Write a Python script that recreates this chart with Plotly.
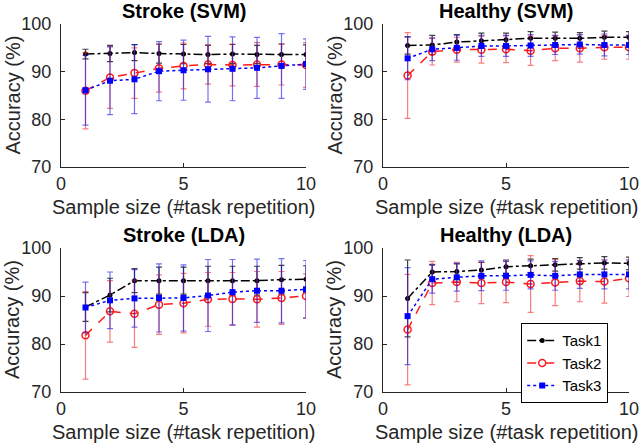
import plotly.graph_objects as go

x = [1, 2, 3, 4, 5, 6, 7, 8, 9, 10]
tasks = ["Task1", "Task2", "Task3"]
panel_titles = ["Stroke (SVM)", "Healthy (SVM)", "Stroke (LDA)", "Healthy (LDA)"]
x_ticks = [0, 5, 10]
y_ticks = [70, 80, 90, 100]

# Stroke (SVM)
s_svm_t1 = [93.7, 93.8, 94.0, 93.8, 93.7, 93.6, 93.7, 93.6, 93.6, 93.6]
s_svm_t1_err = [1.0, 1.7, 1.7, 2.0, 2.0, 1.9, 2.0, 1.9, 2.2, 2.0]
s_svm_t2 = [86.0, 88.8, 89.7, 90.7, 91.2, 91.5, 91.4, 91.5, 91.5, 91.4]
s_svm_t2_err = [8.0, 6.5, 5.3, 5.0, 4.8, 4.1, 4.4, 4.6, 4.3, 4.7]
s_svm_t3 = [86.1, 88.1, 88.4, 90.1, 90.3, 90.5, 90.6, 90.8, 91.2, 91.6]
s_svm_t3_err = [7.3, 7.1, 7.2, 6.2, 6.3, 6.9, 6.7, 6.4, 6.8, 5.3]

# Healthy (SVM)
h_svm_t1 = [95.5, 95.6, 96.2, 96.5, 96.7, 97.0, 97.0, 97.0, 97.2, 97.2]
h_svm_t1_err = [1.8, 2.0, 1.6, 1.6, 1.4, 1.4, 1.3, 1.2, 1.3, 1.2]
h_svm_t2 = [89.2, 94.2, 94.6, 94.6, 94.7, 94.4, 94.9, 94.9, 95.1, 95.1]
h_svm_t2_err = [9.0, 2.8, 2.6, 2.8, 2.8, 3.1, 2.6, 2.9, 2.5, 2.5]
h_svm_t3 = [92.8, 94.7, 95.0, 95.4, 95.4, 95.5, 95.6, 95.7, 95.6, 95.6]
h_svm_t3_err = [4.5, 2.4, 2.6, 2.2, 2.2, 2.3, 2.0, 2.0, 2.3, 2.0]

# Stroke (LDA)
s_lda_t1 = [87.7, 90.2, 93.2, 93.2, 93.2, 93.2, 93.2, 93.2, 93.4, 93.5]
s_lda_t1_err = [3.0, 3.5, 2.5, 2.8, 2.8, 3.0, 3.0, 3.0, 3.0, 2.8]
s_lda_t2 = [81.8, 86.8, 86.3, 88.2, 88.5, 89.3, 89.4, 89.3, 89.6, 90.0]
s_lda_t2_err = [9.1, 6.4, 7.0, 6.2, 6.2, 5.6, 5.5, 5.8, 5.5, 4.6]
s_lda_t3 = [87.6, 89.1, 89.5, 89.6, 89.6, 90.1, 90.8, 91.1, 91.1, 91.4]
s_lda_t3_err = [5.3, 5.9, 6.0, 7.1, 6.9, 7.5, 6.8, 6.6, 6.7, 6.0]

# Healthy (LDA)
h_lda_t1 = [89.5, 95.0, 95.1, 95.4, 96.1, 96.3, 96.5, 96.8, 96.9, 96.8]
h_lda_t1_err = [8.0, 1.6, 1.6, 1.6, 1.4, 1.4, 1.3, 1.2, 1.3, 1.3]
h_lda_t2 = [83.0, 92.7, 92.9, 92.7, 92.9, 92.5, 92.8, 93.1, 93.0, 93.7]
h_lda_t2_err = [11.5, 4.5, 4.1, 4.3, 4.3, 5.9, 4.8, 4.3, 4.5, 3.8]
h_lda_t3 = [85.8, 93.5, 93.9, 94.2, 94.2, 94.4, 94.2, 94.5, 94.5, 94.5]
h_lda_t3_err = [10.1, 2.9, 2.9, 3.1, 3.0, 2.9, 3.0, 2.9, 3.0, 3.0]

panels = [
    [(s_svm_t1, s_svm_t1_err), (s_svm_t2, s_svm_t2_err), (s_svm_t3, s_svm_t3_err)],
    [(h_svm_t1, h_svm_t1_err), (h_svm_t2, h_svm_t2_err), (h_svm_t3, h_svm_t3_err)],
    [(s_lda_t1, s_lda_t1_err), (s_lda_t2, s_lda_t2_err), (s_lda_t3, s_lda_t3_err)],
    [(h_lda_t1, h_lda_t1_err), (h_lda_t2, h_lda_t2_err), (h_lda_t3, h_lda_t3_err)],
]

W, H = 641, 445
FONT = "Liberation Sans, Arial, Helvetica, sans-serif"
GRAY = "#262626"

styles = [
    dict(color="black", err="rgba(0,0,0,0.75)", dash="dashdot",
         marker=dict(symbol="circle", size=5, color="black")),
    dict(color="#ff1a1a", err="rgba(240,40,40,0.6)", dash="dash",
         marker=dict(symbol="circle-open", size=7, color="#ff1a1a", line=dict(width=1.5, color="#ff1a1a"))),
    dict(color="#0000ff", err="rgba(20,20,230,0.6)", dash="dot",
         marker=dict(symbol="square", size=6, color="#0000ff")),
]

# pixel boxes of plotting areas: (x0, x1, ytop, ybottom)
boxes = [(61, 306, 24, 167), (383, 629, 24, 167), (61, 306, 248, 392), (383, 629, 248, 392)]

fig = go.Figure()
layout = dict(width=W, height=H, margin=dict(l=0, r=0, t=0, b=0, autoexpand=False),
              paper_bgcolor="white", plot_bgcolor="white",
              font=dict(family=FONT, size=18, color=GRAY))
annotations = []

for i, (series, box) in enumerate(zip(panels, boxes)):
    n = i + 1
    xa = "x" if n == 1 else f"x{n}"
    ya = "y" if n == 1 else f"y{n}"
    x0, x1, yt, yb = box
    for j, (vals, errs) in enumerate(series):
        st = styles[j]
        fig.add_trace(go.Scatter(
            x=x, y=vals, xaxis=xa, yaxis=ya, mode="lines+markers", name=tasks[j],
            showlegend=(n == 4),
            line=dict(color=st["color"], dash=st["dash"], width=1.5),
            marker=st["marker"],
            error_y=dict(type="data", array=errs, visible=True, color=st["err"],
                         thickness=1.2, width=3),
        ))
    axcommon = dict(showline=True, linecolor=GRAY, linewidth=1, mirror=False, automargin=False,
                    ticks="inside", ticklen=4, tickcolor=GRAY, showgrid=False, zeroline=False,
                    tickfont=dict(family=FONT, size=18, color=GRAY))
    layout["xaxis" if n == 1 else f"xaxis{n}"] = dict(
        domain=[x0 / W, x1 / W], anchor=ya, range=[0, 10], tickvals=x_ticks,
        ticklabelstandoff=0, **axcommon)
    layout["yaxis" if n == 1 else f"yaxis{n}"] = dict(
        domain=[1 - yb / H, 1 - yt / H], anchor=xa, range=[70, 100], tickvals=y_ticks,
        ticklabelstandoff=5, **axcommon)
    cx = (x0 + x1) / 2
    annotations.append(dict(text="<b>" + panel_titles[i] + "</b>", x=cx / W, y=1 - (yt - 13) / H,
                            xref="paper", yref="paper", showarrow=False, xanchor="center", yanchor="middle",
                            font=dict(family=FONT, size=20, color="black")))
    annotations.append(dict(text="Sample size (#task repetition)", x=cx / W, y=1 - (yb + 40) / H,
                            xref="paper", yref="paper", showarrow=False, xanchor="center", yanchor="middle",
                            font=dict(family=FONT, size=20, color=GRAY)))
    annotations.append(dict(text="Accuracy (%)", x=(x0 - 49) / W, y=1 - ((yt + yb) / 2) / H,
                            xref="paper", yref="paper", showarrow=False, xanchor="center", yanchor="middle",
                            textangle=-90, font=dict(family=FONT, size=20, color=GRAY)))

layout["annotations"] = annotations
layout["legend"] = dict(x=608 / W, y=1 - 323 / H, xanchor="right", yanchor="top",
                        bgcolor="white", bordercolor="black", borderwidth=1.2,
                        font=dict(family=FONT, size=15, color="black"),
                        itemwidth=30, tracegroupgap=0)
fig.update_layout(**layout)
fig.write_html("out.html", config={"displayModeBar": False},
               post_script="document.body.style.margin='0';document.body.style.padding='0';")
